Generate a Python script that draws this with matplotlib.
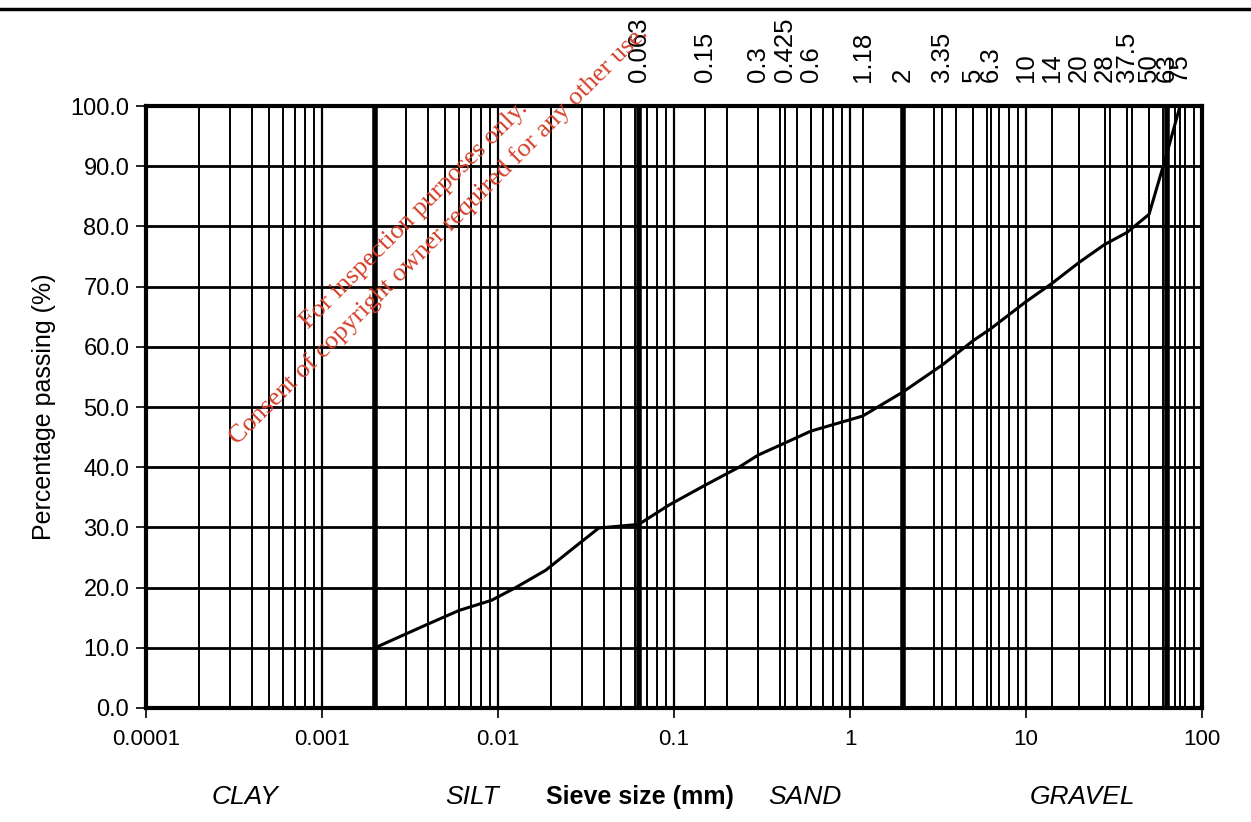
import matplotlib
matplotlib.use("Agg")
import matplotlib.pyplot as plt
import numpy as np
from matplotlib.lines import Line2D

plt.rcParams['font.family'] = ['Liberation Sans', 'DejaVu Sans']

# Grading curve data (sieve size mm, % passing)
sizes = [0.002, 0.0039, 0.006, 0.0092, 0.0126, 0.0187, 0.028, 0.0374, 0.063, 0.0935,
         0.15, 0.234, 0.3, 0.425, 0.6, 1.18, 2, 3.35, 5, 6.3, 10, 14, 20, 28, 37.5, 50, 63, 75]
passing = [10.0, 13.8, 16.2, 17.9, 20.0, 22.9, 27.0, 29.9, 30.5, 33.7,
           37.0, 40.0, 42.0, 44.0, 46.0, 48.5, 52.5, 57.0, 61.0, 63.0, 67.5, 70.5, 74.0, 77.0, 79.0, 82.0, 92.0, 100.0]

sieve_labels = ['0.063', '0.15', '0.3', '0.425', '0.6', '1.18', '2', '3.35', '5', '6.3',
                '10', '14', '20', '28', '37.5', '50', '63', '75']
sieve_values = [float(s) for s in sieve_labels]

boundaries = [0.002, 0.063, 2, 63]
xticks = [0.0001, 0.001, 0.01, 0.1, 1, 10, 100]
xtick_labels = ['0.0001', '0.001', '0.01', '0.1', '1', '10', '100']
yticks = np.arange(0, 101, 10)

zones = ['CLAY', 'SILT', 'SAND', 'GRAVEL']
zone_x = [245, 472, 805, 1082]

fig = plt.figure(figsize=(12.51, 8.22), dpi=100)
ax = fig.add_axes([146/1251, 1-708/822, (1202-146)/1251, (708-106)/822])
ax.set_xscale('log')
ax.set_xlim(1e-4, 100)
ax.set_ylim(0, 100)

# vertical minor grid
for d in range(-4, 2):
    for m in range(2, 10):
        ax.axvline(m * 10.0**d, color='black', lw=1.4, zorder=1)
    ax.axvline(10.0**d, color='black', lw=1.6, zorder=1)
for s in sieve_values:
    ax.axvline(s, color='black', lw=1.4, zorder=1)
for b in boundaries:
    ax.axvline(b, color='black', lw=4, zorder=2)
for yv in yticks:
    ax.axhline(yv, color='black', lw=2, zorder=1)

ax.plot(sizes, passing, color='black', lw=2.2, zorder=3)

for sp in ax.spines.values():
    sp.set_linewidth(3)

ax.set_xticks(xticks)
ax.set_xticklabels(xtick_labels, fontsize=16)
ax.xaxis.set_minor_locator(matplotlib.ticker.NullLocator())
ax.set_yticks(yticks)
ax.set_yticklabels([f'{v:.1f}' for v in yticks], fontsize=17)
ax.tick_params(axis='both', direction='out', length=7, width=1.2, pad=5)
ax.tick_params(axis='x', pad=8)
ax.set_ylabel('Percentage passing (%)', fontsize=18, labelpad=10)

# top sieve labels
ax2 = ax.secondary_xaxis('top')
ax2.set_xticks(sieve_values)
ax2.set_xticklabels(sieve_labels, rotation=90, fontsize=18.5)
ax2.xaxis.set_minor_locator(matplotlib.ticker.NullLocator())
ax2.tick_params(length=0, pad=17)
ax2.spines['top'].set_visible(False)

# bottom zone labels
for z, zx in zip(zones, zone_x):
    fig.text(zx/1251, 1-797/822, z, fontsize=19, style='italic', ha='center', va='center')
fig.text(640/1251, 1-797/822, 'Sieve size (mm)', fontsize=18, fontweight='bold', ha='center', va='center')

# scan border line at top
fig.add_artist(Line2D([0, 1], [1-9/822, 1-9/822], transform=fig.transFigure, color='black', lw=2.5))

# watermark
wm = dict(fontsize=19, color='#d4402a', rotation=45, family='Liberation Serif',
          ha='center', va='center', rotation_mode='anchor')
fig.text(414/1251, 1-215/822, 'For inspection purposes only.', **wm)
fig.text(439/1251, 1-235/822, 'Consent of copyright owner required for any other use.', **wm)

fig.savefig('out.png', dpi=100)
